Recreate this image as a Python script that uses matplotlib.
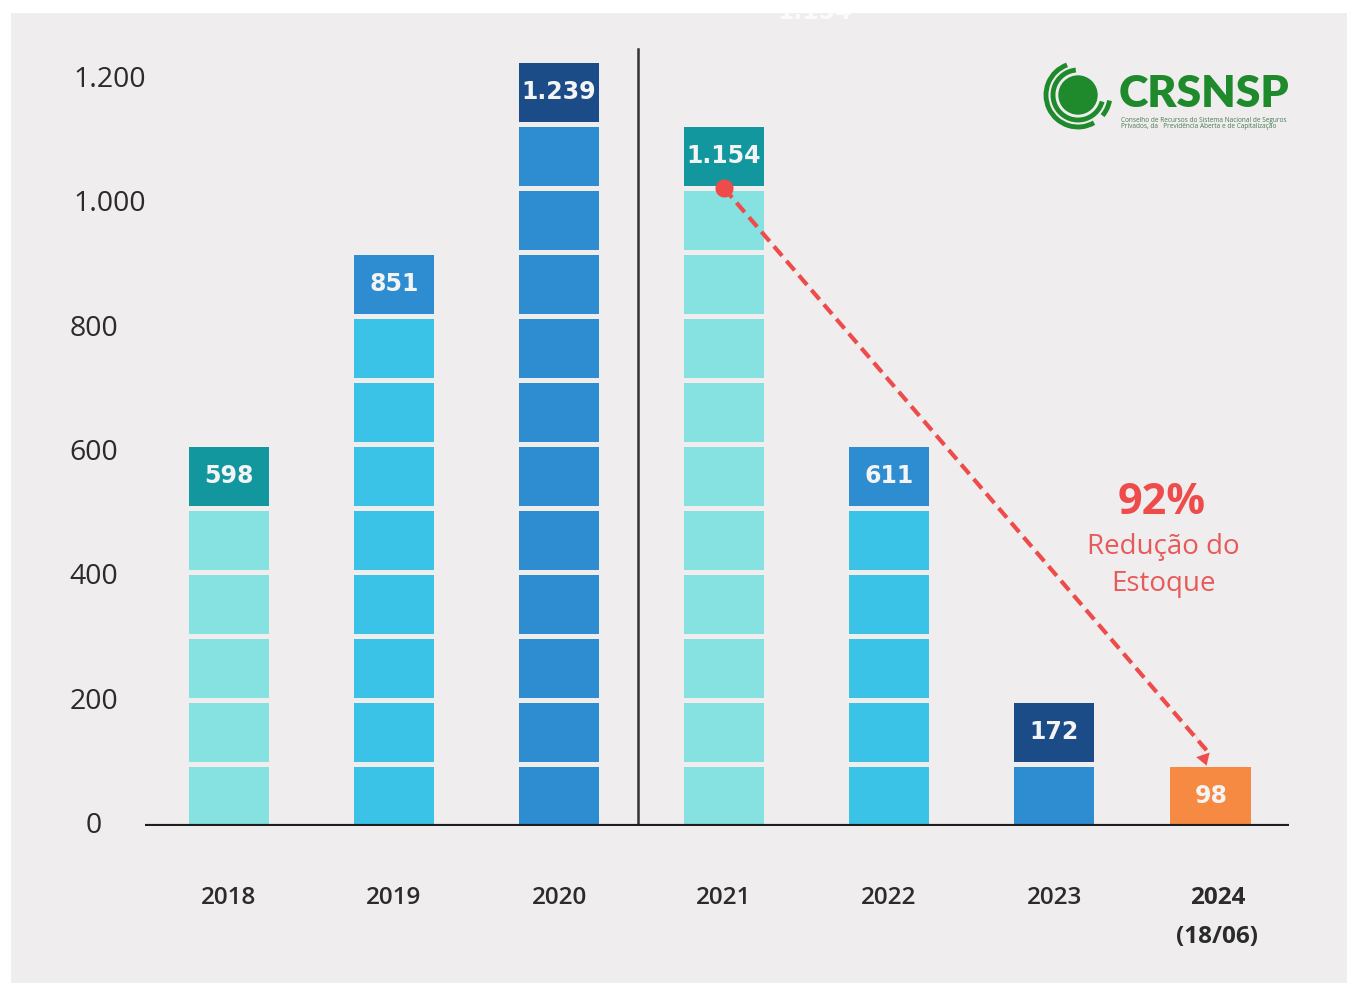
import matplotlib.pyplot as plt
from matplotlib.patches import Rectangle, Circle, Arc
import numpy as np

# dados
anos = ['2018', '2019', '2020', '2021', '2022', '2023', '2024']
estoque = [598, 851, 1239, 1154, 611, 172, 98]
rotulos = ['598', '851', '1.239', '1.154', '611', '172', '98']
blocos = [6, 9, 12, 11, 6, 2, 1]          # número de blocos empilhados em cada barra
yticks = [0, 200, 400, 600, 800, 1000, 1200]
ytick_labels = ['0', '200', '400', '600', '800', '1.000', '1.200']

cor_bloco = ['#86E1E1', '#3AC3E6', '#2E8CD1', '#86E1E1', '#3AC3E6', '#2E8CD1', '#F78A42']
cor_topo = ['#12979F', '#2E8CD1', '#1B4C88', '#12979F', '#2E8CD1', '#1B4C88', '#F78A42']

FUNDO = '#EFEDEE'
VERMELHO = '#EE4B4B'
W, H = 1347, 983

fig = plt.figure(figsize=(W / 100, H / 100), dpi=100)
fig.patch.set_facecolor('white')
fig.patches.append(Rectangle((11 / W, 0), 1 - 11 / W, 1 - 13 / H, transform=fig.transFigure,
                             facecolor=FUNDO, edgecolor='none', zorder=-10))

ax = fig.add_axes([145 / W, 1 - 826 / H, 1144 / W, 806 / H])
ax.set_facecolor('none')
ax.set_xlim(-0.509, 6.424)
ax.set_ylim(0, 1296.5)
for s in ax.spines.values():
    s.set_visible(False)
ax.set_xticks([])
ax.set_yticks([])

passo = 103.0
altura = 95.0
x = np.arange(len(anos), dtype=float)
x[-1] -= 0.05
larg = 0.49

for i in range(len(anos)):
    n = blocos[i]
    for k in range(n):
        cor = cor_topo[i] if k == n - 1 else cor_bloco[i]
        ax.bar(x[i], altura, width=larg, bottom=k * passo, color=cor, linewidth=0, zorder=2)
    ax.text(x[i], (n - 1) * passo + altura / 2, rotulos[i], ha='center', va='center',
            color='#F4F4F4', fontsize=17, fontweight='bold', family='DejaVu Sans', zorder=3)

# eixo horizontal e separador
ax.axhline(0, color='#1E1E1E', lw=3, zorder=4)
ax.plot([2.48, 2.48], [0, 1250], color='#333333', lw=1.8, zorder=1)

# rótulos do eixo y
for v, t in zip(yticks, ytick_labels):
    if len(t) <= 3:
        ax.text(-0.509 - 51 / 165, v, t, ha='center', va='center', fontsize=20.5,
                color='#2B2B2B', family='Open Sans', clip_on=False)
    else:
        ax.text(-0.509 - 72 / 165, v, t, ha='left', va='center', fontsize=20.5,
                color='#2B2B2B', family='Open Sans', clip_on=False)

# rótulos do eixo x
for i, a in enumerate(anos):
    peso = 'bold' if i == len(anos) - 1 else 'semibold'
    ax.text(x[i] + (0.04 if i == len(anos) - 1 else 0), -116, a, ha='center', va='center',
            fontsize=17.5, fontweight=peso, color='#2B2B2B', family='Open Sans', clip_on=False)
ax.text(x[-1] + 0.04, -178, '(18/06)', ha='center', va='center', fontsize=17.5,
        fontweight='bold', color='#2B2B2B', family='Open Sans', clip_on=False)

# seta de redução
y0 = (blocos[3] - 1) * passo - (passo - altura) / 2
y1 = blocos[6] * passo - (passo - altura)
ax.plot([x[3], x[6] - 0.02], [y0, y1 + 25], color=VERMELHO, lw=3, ls=(0, (3, 1.6)), zorder=5)
ax.plot([x[3]], [y0], marker='o', ms=12, color=VERMELHO, zorder=6)
ax.annotate('', xy=(x[6] - 0.02, y1 - 2), xytext=(x[6] - 0.1, y1 + 60),
            arrowprops=dict(arrowstyle='-|>,head_length=0.8,head_width=0.5',
                            color=VERMELHO, lw=0.1), zorder=6)

fig.text(1162 / W, 1 - 502 / H, '92%', ha='center', va='center', fontsize=31,
         fontweight='bold', color=VERMELHO, family='Open Sans')
fig.text(1163 / W, 1 - 547 / H, 'Redução do', ha='center', va='center', fontsize=20,
         color='#E85A5A', family='Open Sans')
fig.text(1163 / W, 1 - 584 / H, 'Estoque', ha='center', va='center', fontsize=20,
         color='#E85A5A', family='Open Sans')

# texto fantasma no topo
fig.text(815 / W, 1 - 12 / H, '1.154', ha='center', va='center', fontsize=17,
         fontweight='bold', color='white', alpha=0.8, family='DejaVu Sans')

# logotipo
lg = fig.add_axes([1040 / W, 1 - 135 / H, 80 / W, 80 / H])
lg.set_xlim(0, 80)
lg.set_ylim(0, 80)
lg.set_aspect('equal')
lg.axis('off')
VERDE = '#1E8A2C'
lg.add_patch(Circle((38, 40), 19, color=VERDE))
lg.add_patch(Arc((38, 40), 50, 50, theta1=95, theta2=345, color=VERDE, lw=3.5))
lg.add_patch(Arc((38, 40), 64, 64, theta1=110, theta2=300, color=VERDE, lw=3.5))
lg.add_patch(Arc((38, 40), 64, 64, theta1=320, theta2=350, color=VERDE, lw=3.5))
fig.text(1119 / W, 1 - 107 / H, 'CRSNSP', ha='left', va='baseline', fontsize=32,
         fontweight='heavy', color=VERDE, family='Lato')
fig.text(1121 / W, 1 - 120 / H, 'Conselho de Recursos do Sistema Nacional de Seguros',
         ha='left', va='center', fontsize=4.7, color='#4A7A50', family='Open Sans')
fig.text(1121 / W, 1 - 127 / H, 'Privados, da   Previdência Aberta e de Capitalização',
         ha='left', va='center', fontsize=4.7, color='#4A7A50', family='Open Sans')

fig.savefig('out.png', dpi=100, facecolor=fig.get_facecolor())
